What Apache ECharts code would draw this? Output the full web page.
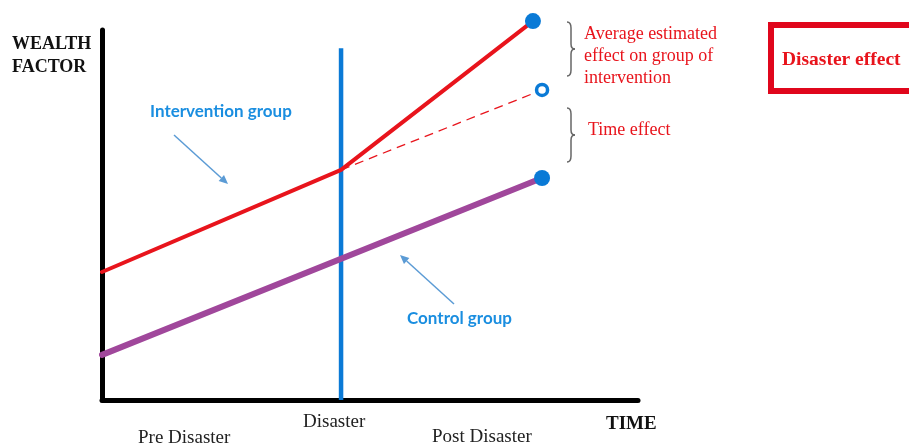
<!DOCTYPE html>
<html>
<head>
<meta charset="utf-8">
<script src="https://cdn.jsdelivr.net/npm/echarts@6/dist/echarts.min.js"></script>
<style>
  html, body { margin: 0; padding: 0; background: #fff; }
  #chart { width: 909px; height: 446px; }
</style>
</head>
<body>
<div id="chart"></div>
<script>
// time runs 0..100 along the x axis, wealth factor 0..100 up the y axis
const disasterTime = 44.6;
const interventionPts = [[0, 34.6], [44.6, 62.2], [80.4, 102.4]];
const counterfactualPts = [[44.6, 62.2], [82.1, 83.8]];
const controlPts = [[0, 12.2], [82.1, 60.0]];
const disasterLinePts = [[disasterTime, 0], [disasterTime, 95.1]];
const endPoints = [[80.4, 102.4], [82.1, 60.0]];
const openPoints = [[82.1, 83.8]];

const yTitle = ['WEALTH', 'FACTOR'];
const xTitle = 'TIME';
const periodLabels = ['Pre Disaster', 'Disaster', 'Post Disaster'];
const groupLabels = ['Intervention group', 'Control group'];
const effectLabels = ['Average estimated', 'effect on group of', 'intervention'];
const timeEffectLabel = 'Time effect';
const boxLabel = 'Disaster effect';

const RED = '#e8141c';
const BLUE = '#0a7ad6';
const PURPLE = '#a0479b';
const SKY = '#1a8ee0';
const ARROW = '#5b9bd5';
const serif = '"Liberation Serif", "DejaVu Serif", serif';

const chart = echarts.init(document.getElementById('chart'));

// curly bracket "}" made of two straight bits and four small curves
function brace(x0, t, b) {
  const m = (t + b) / 2;
  const xs = x0 + 4;
  const st = { stroke: '#666', lineWidth: 1.5, fill: null };
  const curve = (x1, y1, cx, cy, x2, y2) => ({
    type: 'bezierCurve', shape: { x1: x1, y1: y1, cpx1: cx, cpy1: cy, x2: x2, y2: y2 }, style: st
  });
  return [
    curve(x0, t, xs, t, xs, t + 6),
    { type: 'line', shape: { x1: xs, y1: t + 6, x2: xs, y2: m - 5 }, style: st },
    curve(xs, m - 5, xs, m, x0 + 8, m),
    curve(x0 + 8, m, xs, m, xs, m + 5),
    { type: 'line', shape: { x1: xs, y1: m + 5, x2: xs, y2: b - 6 }, style: st },
    curve(xs, b - 6, xs, b, x0, b)
  ];
}

function arrow(x1, y1, x2, y2) {
  const dx = x2 - x1, dy = y2 - y1;
  const len = Math.sqrt(dx * dx + dy * dy);
  const ux = dx / len, uy = dy / len;
  const bx = x2 - ux * 9, by = y2 - uy * 9;
  const px = -uy * 4, py = ux * 4;
  return [
    { type: 'line', shape: { x1: x1, y1: y1, x2: bx, y2: by }, style: { stroke: ARROW, lineWidth: 1.5 } },
    { type: 'polygon', shape: { points: [[x2, y2], [bx + px, by + py], [bx - px, by - py]] }, style: { fill: ARROW } }
  ];
}

const txt = (x, y, text, font, color) => ({
  type: 'text', x: x, y: y,
  style: { text: text, font: font, fill: color, textVerticalAlign: 'middle' }
});

const option = {
  backgroundColor: '#fff',
  animation: false,
  grid: { left: 102, right: 271, top: 30, bottom: 46 },
  xAxis: {
    type: 'value', min: 0, max: 100,
    axisLine: { show: true, lineStyle: { color: '#000', width: 5, cap: 'round' } },
    axisTick: { show: false }, axisLabel: { show: false }, splitLine: { show: false }
  },
  yAxis: {
    type: 'value', min: 0, max: 100,
    axisLine: { show: true, lineStyle: { color: '#000', width: 5, cap: 'round' } },
    axisTick: { show: false }, axisLabel: { show: false }, splitLine: { show: false }
  },
  series: [
    {
      type: 'line', data: disasterLinePts, symbol: 'none', clip: false,
      lineStyle: { color: BLUE, width: 4.5 }
    },
    {
      type: 'line', data: controlPts, symbol: 'none', clip: false,
      lineStyle: { color: PURPLE, width: 6, cap: 'round' }
    },
    {
      type: 'line', data: counterfactualPts, symbol: 'none', clip: false,
      lineStyle: { color: RED, width: 1.3, type: [9, 6] }
    },
    {
      type: 'line', data: interventionPts, symbol: 'none', clip: false,
      lineStyle: { color: RED, width: 4, cap: 'round', join: 'round' }
    },
    {
      type: 'scatter', data: endPoints, symbol: 'circle', symbolSize: 16, clip: false, z: 5,
      itemStyle: { color: BLUE, opacity: 1 }
    },
    {
      type: 'scatter', data: openPoints, symbol: 'circle', symbolSize: 11, clip: false, z: 5,
      itemStyle: { color: '#fff', borderColor: BLUE, borderWidth: 3.5, opacity: 1 }
    }
  ],
  graphic: [
    txt(12, 44, yTitle[0], 'bold 18px ' + serif, '#111'),
    txt(12, 67, yTitle[1], 'bold 18px ' + serif, '#111'),
    txt(606, 424, xTitle, 'bold 19px ' + serif, '#111'),
    txt(138, 438, periodLabels[0], '19px ' + serif, '#222'),
    txt(303, 422, periodLabels[1], '19px ' + serif, '#222'),
    txt(432, 437, periodLabels[2], '19px ' + serif, '#222'),
    txt(150, 112, groupLabels[0], 'bold 17px Lato, "Open Sans", sans-serif', SKY),
    txt(407, 319, groupLabels[1], 'bold 17px Lato, "Open Sans", sans-serif', SKY),
    txt(584, 34, effectLabels[0], '18px ' + serif, RED),
    txt(584, 56, effectLabels[1], '18px ' + serif, RED),
    txt(584, 78, effectLabels[2], '18px ' + serif, RED),
    txt(588, 130, timeEffectLabel, '18px ' + serif, RED),
    { type: 'rect', shape: { x: 771, y: 25, width: 150, height: 66 }, style: { stroke: '#e0061c', lineWidth: 6, fill: '#fff' } },
    txt(782, 60, boxLabel, 'bold 19.5px ' + serif, RED)
  ].concat(brace(567, 22, 76), brace(567, 108, 162),
    arrow(174, 135, 228, 184), arrow(454, 304, 400, 255))
};

chart.setOption(option);
</script>
</body>
</html>
